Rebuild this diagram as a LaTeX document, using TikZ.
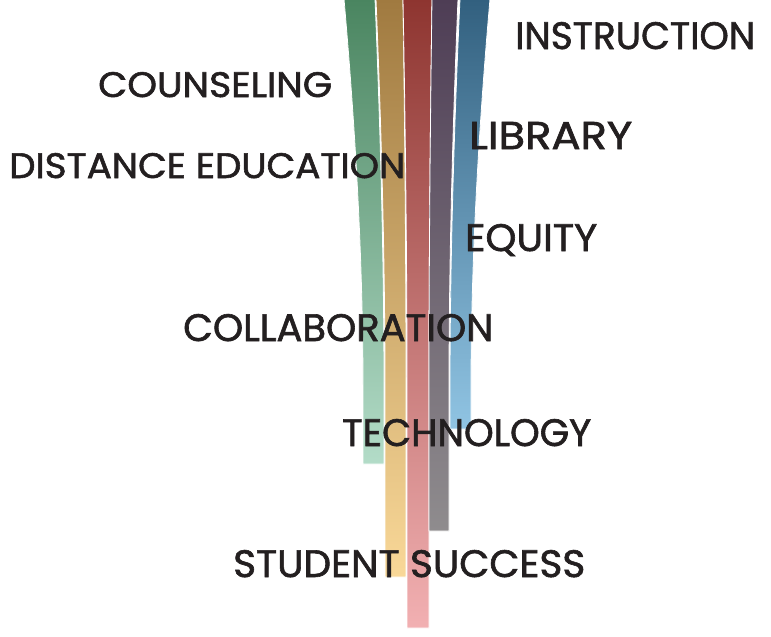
\documentclass[tikz,border=0pt]{standalone}
\usepackage{fontspec}
\setmainfont{Poppins}
\newfontfamily\themefont[FakeBold=1.6]{Poppins}
\usetikzlibrary{positioning}
\definecolor{ink}{HTML}{231F20}
\definecolor{greenTop}{RGB}{74,133,96}
\definecolor{greenBot}{RGB}{179,220,200}
\definecolor{goldTop}{RGB}{160,122,64}
\definecolor{goldBot}{RGB}{249,216,152}
\definecolor{redTop}{RGB}{142,53,48}
\definecolor{redBot}{RGB}{242,176,178}
\definecolor{plumTop}{RGB}{78,61,85}
\definecolor{plumBot}{RGB}{143,140,142}
\definecolor{blueTop}{RGB}{50,96,127}
\definecolor{blueBot}{RGB}{144,196,227}
\tikzstyle{ribbon}=[draw=white,line width=0.8pt]
\tikzstyle{theme}=[anchor=base west,inner sep=0pt,text=ink,font=\themefont]
% #1 top-left x, #2 low-left x, #3 top-right x, #4 low-right x, #5 end y
\newcommand{\ribbon}[7]{%
  \path[ribbon,top color=#6,bottom color=#7]
    (#1,-1) .. controls ({#1+0.6*(#2-#1)},130) and (#2,260) .. (#2,390)
    -- (#2,#5) -- (#4,#5) -- (#4,390)
    .. controls (#4,260) and ({#3+0.6*(#4-#3)},130) .. (#3,-1) -- cycle;}
\newcommand{\fitword}[3]{\resizebox{#1pt}{#2pt}{#3}}

\begin{document}
\begin{tikzpicture}[x=1pt,y=-1pt]
  \useasboundingbox (0,0) rectangle (771,637);

  \ribbon{344}{363}{375}{384}{464}{greenTop}{greenBot}
  \ribbon{376}{385}{403}{406}{577}{goldTop}{goldBot}
  \ribbon{403}{407}{432}{429}{628}{redTop}{redBot}
  \ribbon{432}{429}{458}{449}{531}{plumTop}{plumBot}
  \ribbon{460}{450}{490}{471}{429}{blueTop}{blueBot}

  \node[theme] (instr)  at (515,49)  {\fitword{240}{27}{INSTRUCTION}};
  \node[theme] (couns)  at (98,97)   {\fitword{234}{25}{COUNSELING}};
  \node[theme] (libr)   at (469,149) {\fitword{163}{27}{LIBRARY}};
  \node[theme] (dist)   at (9,178)   {\fitword{396}{25}{DISTANCE EDUCATION}};
  \node[theme] (equity) at (465,251) {\fitword{132}{27}{EQUITY}};
  \node[theme] (collab) at (183,341) {\fitword{310}{27}{COLLABORATION}};
  \node[theme] (tech)   at (342,446) {\fitword{249}{27}{TECHNOLOGY}};
  \node[theme] (succ)   at (233,577) {\fitword{352}{27}{STUDENT SUCCESS}};
\end{tikzpicture}
\end{document}
